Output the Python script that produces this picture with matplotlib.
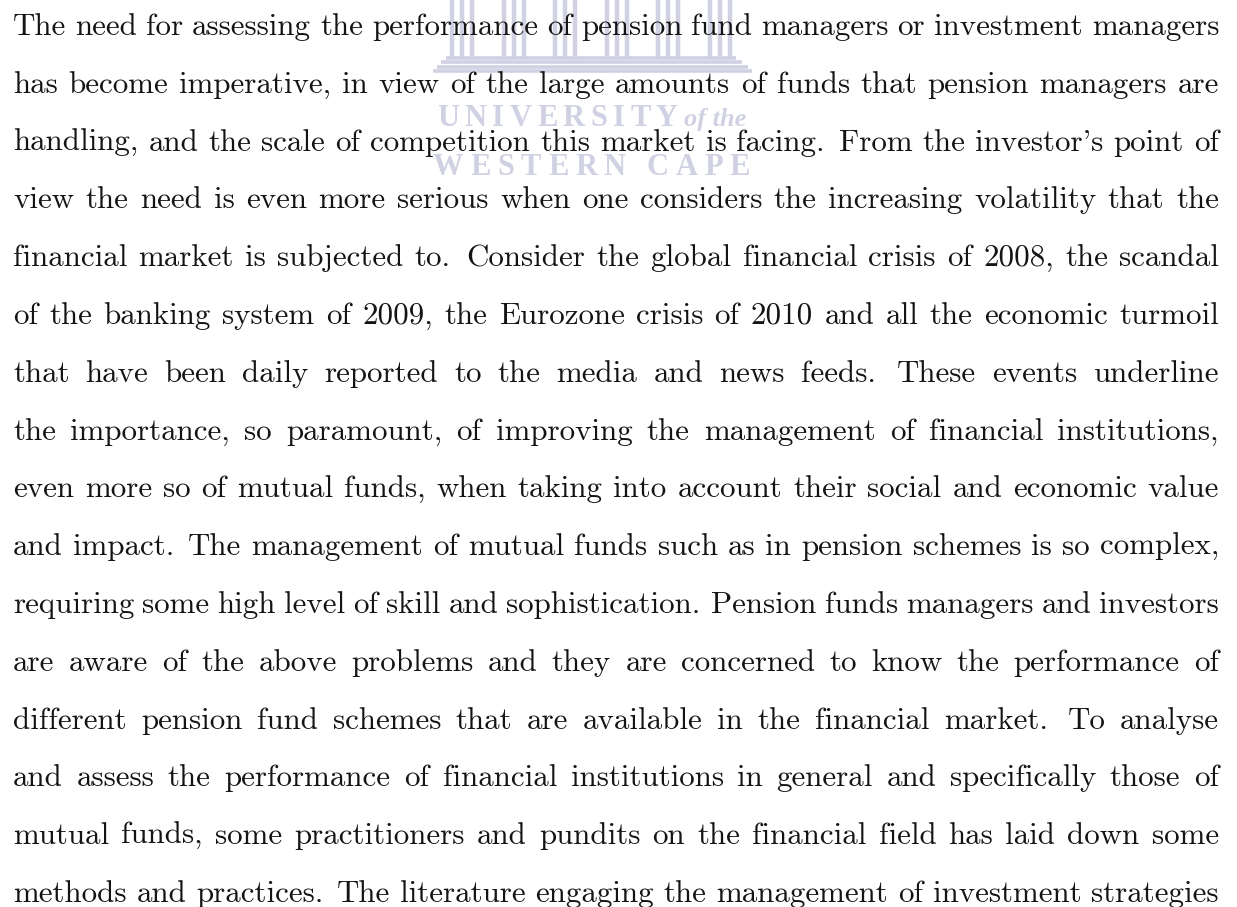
import matplotlib
matplotlib.use('Agg')
import matplotlib.pyplot as plt

# page text, one entry per printed line (justified)
lines = [
    "The need for assessing the performance of pension fund managers or investment managers",
    "has become imperative, in view of the large amounts of funds that pension managers are",
    "handling, and the scale of competition this market is facing. From the investor's point of",
    "view the need is even more serious when one considers the increasing volatility that the",
    "financial market is subjected to. Consider the global financial crisis of 2008, the scandal",
    "of the banking system of 2009, the Eurozone crisis of 2010 and all the economic turmoil",
    "that have been daily reported to the media and news feeds. These events underline",
    "the importance, so paramount, of improving the management of financial institutions,",
    "even more so of mutual funds, when taking into account their social and economic value",
    "and impact. The management of mutual funds such as in pension schemes is so complex,",
    "requiring some high level of skill and sophistication. Pension funds managers and investors",
    "are aware of the above problems and they are concerned to know the performance of",
    "different pension fund schemes that are available in the financial market. To analyse",
    "and assess the performance of financial institutions in general and specifically those of",
    "mutual funds, some practitioners and pundits on the financial field has laid down some",
    "methods and practices. The literature engaging the management of investment strategies",
]

# watermark (university logo) texts
wm_top = "UNIVERSITY"
wm_top_small = "of the"
wm_bottom = "WESTERN CAPE"
n_pillars = 6

W, H = 1237, 907
fig = plt.figure(figsize=(W / 100, H / 100), dpi=100)
ax = fig.add_axes([0, 0, 1, 1])
ax.set_xlim(0, W); ax.set_ylim(H, 0); ax.axis('off')
r = fig.canvas.get_renderer()

WM = '#d0d1e3'
BODY = dict(family=['cmr10', 'DejaVu Serif'], fontsize=22.3, color='#141414')


def width(t):
    return t.get_window_extent(r).width


def spread(items, x0, x1, y, weights=None, **kw):
    """place items left to right so the row exactly fills x0..x1"""
    ts = [ax.text(0, y, s, ha='left', va='baseline', **kw) for s in items]
    ws = [width(t) for t in ts]
    n = len(items) - 1
    if weights is None:
        weights = [1.0] * n
    unit = (x1 - x0 - sum(ws)) / max(sum(weights), 1e-9)
    x = x0
    for i, (t, w) in enumerate(zip(ts, ws)):
        t.set_x(x)
        x += w + (unit * weights[i] if i < n else 0)
    return ts


# ---logo: pillars + steps ---
for k in range(n_pillars):
    cx = 462 + k * 51.5
    for dx in (-10, 0, 10):
        ax.plot([cx + dx, cx + dx], [0, 57], color=WM, lw=3.2, solid_capstyle='butt', zorder=0)
for y, xa, xb in [(58, 446, 736), (62, 441, 742), (67, 437, 748), (71, 433, 752)]:
    ax.plot([xa, xb], [y, y], color=WM, lw=2.6, solid_capstyle='butt', zorder=0)

wm_kw = dict(family='Liberation Serif', color=WM, zorder=0, fontweight='bold')
spread(list(wm_top), 437, 678, 126, fontsize=22, **wm_kw)
ax.text(684, 126, wm_top_small, ha='left', va='baseline', fontsize=19, style='italic', **wm_kw)
spread(list(wm_bottom), 433, 750, 175, fontsize=22, **wm_kw)

# ---body text, justified ---
X0, X1 = 13, 1219
for i, line in enumerate(lines):
    words = line.split()
    wts = [1.35 if w.endswith('.') else 1.0 for w in words[:-1]]
    spread(words, X0, X1, 35 + 57.8 * i, weights=wts, **BODY)

fig.savefig('out.png', dpi=100)
